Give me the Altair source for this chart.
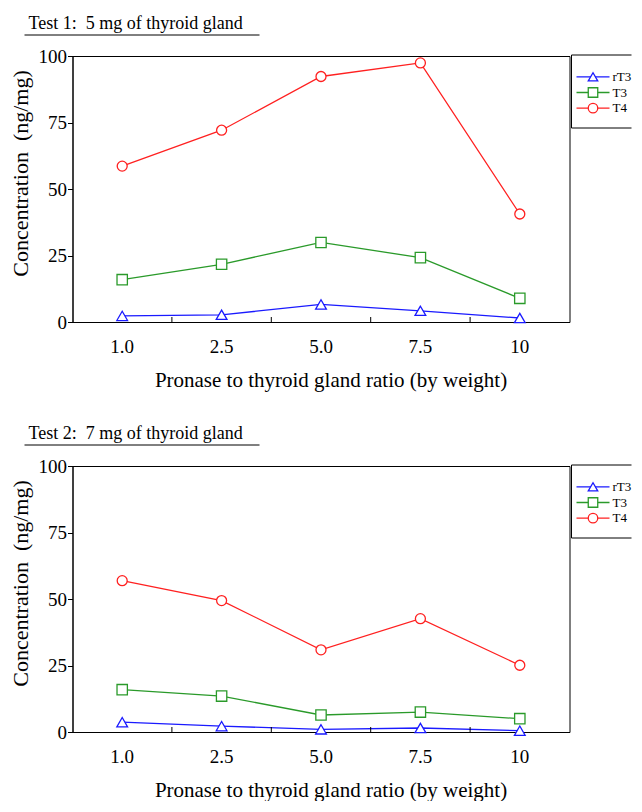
import altair as alt
import pandas as pd

ratios = ["1.0", "2.5", "5.0", "7.5", "10"]
series = ["rT3", "T3", "T4"]
colors = ["#1a1aff", "#2a9a2a", "#ff2020"]
shapes = ["triangle-up", "square", "circle"]
sizes = [115, 100, 121]

test1_rT3 = [2.3, 2.7, 6.6, 4.2, 1.5]
test1_T3 = [15.9, 21.7, 29.9, 24.2, 8.9]
test1_T4 = [58.6, 72.1, 92.3, 97.4, 40.6]

test2_rT3 = [3.7, 2.2, 1.0, 1.5, 0.5]
test2_T3 = [15.9, 13.5, 6.4, 7.5, 5.0]
test2_T4 = [56.9, 49.4, 30.9, 42.6, 25.1]

titles = ["Test 1:\u00a0 5 mg of thyroid gland", "Test 2:\u00a0 7 mg of thyroid gland"]
y_ticks = [0, 25, 50, 75, 100]
x_title = "Pronase to thyroid gland ratio (by weight)"
y_title = "Concentration\u00a0 (ng/mg)"

FONT = "Liberation Serif"
W, H = 497, 266

color_scale = alt.Scale(domain=series, range=colors)
shape_scale = alt.Scale(domain=series, range=shapes)
size_scale = alt.Scale(domain=series, range=sizes)


def x_enc(**kw):
    return alt.X(
        "ratio:O",
        sort=ratios,
        scale=alt.Scale(type="band", domain=ratios, paddingInner=0, paddingOuter=0),
        axis=alt.Axis(
            title=x_title, labelAngle=0, ticks=False, tickSize=0, labelPadding=15,
            labelFont=FONT, labelFontSize=19, labelColor="black",
            titleFont=FONT, titleFontSize=21, titleFontWeight="normal",
            titleColor="black", titlePadding=13, titleX=258, domainColor="black",
        ),
        **kw,
    )


y_enc = alt.Y(
    "value:Q",
    scale=alt.Scale(domain=[0, 100], nice=False, zero=True),
    axis=alt.Axis(
        title=y_title, values=y_ticks, tickSize=5, tickColor="black", labelPadding=1,
        labelFont=FONT, labelFontSize=19, labelColor="black",
        titleFont=FONT, titleFontSize=22, titleFontWeight="normal", titleColor="black",
        titlePadding=6, titleY=117, domainColor="black",
    ),
)


def legend_layer():
    ldf = pd.DataFrame({"series": series})
    one = pd.DataFrame({"k": [0]})
    ly = alt.Y("series:N", sort=series,
               scale=alt.Scale(type="point", domain=series, range=[13, 60]), axis=None)
    base = alt.Chart(ldf)
    ob = alt.Chart(one)
    top = ob.mark_rule(color="black", strokeWidth=1).encode(
        x=alt.value(W + 2), x2=alt.value(W + 62), y=alt.value(-1))
    bot = ob.mark_rule(color="black", strokeWidth=1).encode(
        x=alt.value(W + 2), x2=alt.value(W + 62), y=alt.value(72))
    left = ob.mark_rule(color="black", strokeWidth=1).encode(
        x=alt.value(W + 2), y=alt.value(-1), y2=alt.value(72))
    rule = base.mark_rule(strokeWidth=1.3).encode(
        x=alt.value(W + 7), x2=alt.value(W + 40), y=ly,
        color=alt.Color("series:N", scale=color_scale, legend=None),
    )
    sym = base.mark_point(filled=True, fill="white", strokeWidth=1.3, opacity=1, size=90).encode(
        x=alt.value(W + 23.5), y=ly,
        stroke=alt.Stroke("series:N", scale=color_scale, legend=None),
        shape=alt.Shape("series:N", scale=shape_scale, legend=None),
    )
    txt = base.mark_text(align="left", baseline="middle", font=FONT, fontSize=13, color="black").encode(
        x=alt.value(W + 43), y=ly, text="series:N"
    )
    return alt.layer(top, bot, left, rule, sym, txt)


def panel(vals_list, title):
    rows = []
    for s, vals in zip(series, vals_list):
        for r, v in zip(ratios, vals):
            rows.append({"ratio": r, "series": s, "value": v})
    df = pd.DataFrame(rows)
    base = alt.Chart(df)
    lines = base.mark_line(strokeWidth=1.3).encode(
        x=x_enc(), y=y_enc,
        color=alt.Color("series:N", scale=color_scale, legend=None),
        detail="series:N",
    )
    pts = base.mark_point(filled=True, fill="white", strokeWidth=1.3, opacity=1).encode(
        x=x_enc(), y=y_enc,
        stroke=alt.Stroke("series:N", scale=color_scale, legend=None),
        shape=alt.Shape("series:N", scale=shape_scale, legend=None),
        size=alt.Size("series:N", scale=size_scale, legend=None),
    )
    bdf = pd.DataFrame({"ratio": ratios[:-1]})
    ticks = alt.Chart(bdf).mark_rule(color="black", strokeWidth=1).encode(
        x=x_enc(bandPosition=1), y=alt.value(H - 5), y2=alt.value(H)
    )
    tdf = pd.DataFrame({"t": [title]})
    ttxt = alt.Chart(tdf).mark_text(
        align="left", baseline="alphabetic", font=FONT, fontSize=18, color="black"
    ).encode(x=alt.value(-44), y=alt.value(-27.5), text="t:N")
    uline = alt.Chart(tdf).mark_rule(color="black", strokeWidth=1).encode(
        x=alt.value(-48), x2=alt.value(187), y=alt.value(-21)
    )
    main = alt.layer(lines, pts, ticks, ttxt, uline)
    return alt.layer(main, legend_layer()).resolve_scale(y="independent").properties(width=W, height=H)


p1 = panel([test1_rT3, test1_T3, test1_T4], titles[0])
p2 = panel([test2_rT3, test2_T3, test2_T4], titles[1])

chart = alt.vconcat(
    p1, p2, spacing=144, bounds="flush",
).resolve_scale(
    y="independent"
).properties(
    padding={"left": 0.5, "top": 6, "right": 0, "bottom": 0}
).configure_view(
    stroke="black", strokeWidth=1
).configure_axis(grid=False)

chart.save("out.html", embed_options={"renderer": "svg", "actions": False})
